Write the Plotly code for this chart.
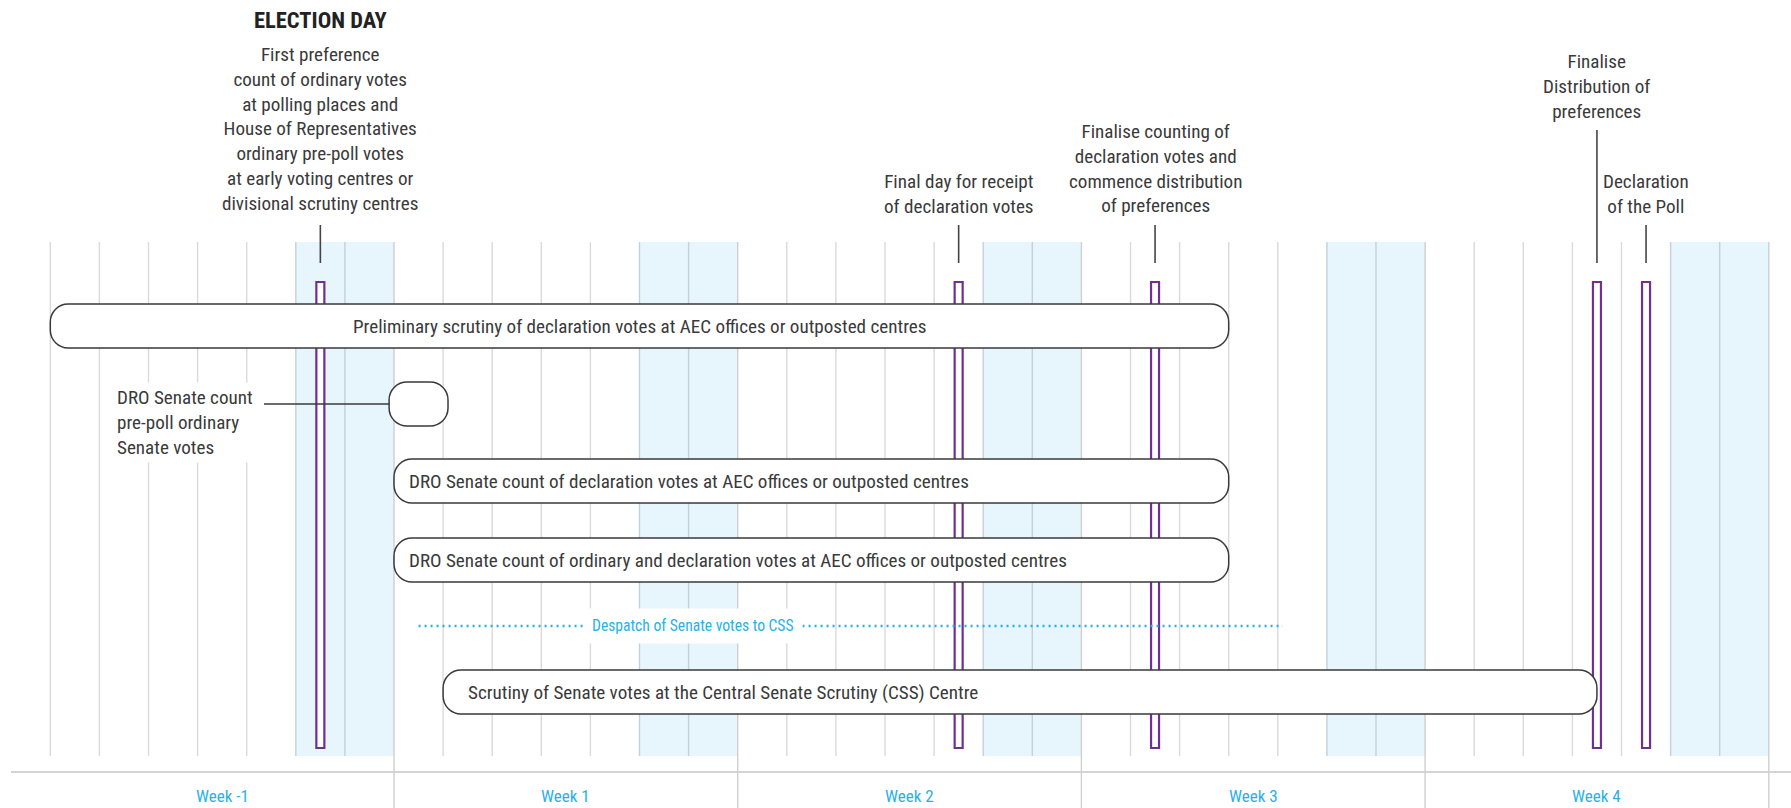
import plotly.graph_objects as go

# ---------------- data ----------------
week_labels = ["Week -1", "Week 1", "Week 2", "Week 3", "Week 4"]
days_per_week = 7
weekend_offsets = [5, 6]          # Saturday, Sunday within each week

milestone_days = [5.5, 18.5, 22.5, 31.5, 32.5]
milestone_texts = [
    "First preference<br>count of ordinary votes<br>at polling places and<br>House of Representatives"
    "<br>ordinary pre-poll votes<br>at early voting centres or<br>divisional scrutiny centres",
    "Final day for receipt<br>of declaration votes",
    "Finalise counting of<br>declaration votes and<br>commence distribution<br>of preferences",
    "Finalise<br>Distribution of<br>preferences",
    "Declaration<br>of the Poll",
]
election_day_title = "ELECTION DAY"

activity_labels = [
    "Preliminary scrutiny of declaration votes at AEC offices or outposted centres",
    "",
    "DRO Senate count of declaration votes at AEC offices or outposted centres",
    "DRO Senate count of ordinary and declaration votes at AEC offices or outposted centres",
    "Scrutiny of Senate votes at the Central Senate Scrutiny (CSS) Centre",
]
activity_start = [0, 6.9, 7, 7, 8]
activity_end = [24, 8.1, 24, 24, 31.5]

prepoll_label = "DRO Senate count<br>pre-poll ordinary<br>Senate votes"

despatch_label = "Despatch of Senate votes to CSS"
despatch_start = 7.5
despatch_end = 25.1

# ---------------- layout / style ----------------
W, H = 1791, 808
X0_PX = 50.3          # pixel of day 0
DAY_PX = 49.1         # pixels per day
n_days = len(week_labels) * days_per_week

GRID_TOP, GRID_BOT = 242, 756
AXIS_Y = 772
BAR_TOP, BAR_BOT = 282, 748
BAR_W = 8 / DAY_PX

row_center = [326, 404, 481, 560, 692]
row_h = 44
row_align = ["center", None, "left", "left", "left"]
row_pad_px = [0, 0, 13, 13, 23]
corner_r = 18

milestone_text_y = [129, 194, 168.5, 86, 194]
milestone_tick_top = [225, 225, 225, 130, 225]
milestone_tick_bot = 263

FONT = "Liberation Sans Narrow, Roboto Condensed, DejaVu Sans Condensed, Arial Narrow, sans-serif"
FS = 19.1
TXT = "#3a3a3a"
BLUE = "#27b1ea"
PURPLE = "#702f93"
SHADE = "#e7f5fc"
GRID = "#dadada"
GRID_SHADE = "#c5d1d9"


def px_to_day(p):
    return (p - X0_PX) / DAY_PX


def rounded_path(x0, x1, y0, y1, r):
    rx = r / DAY_PX
    ry = r
    k = 0.4477
    return (
        f"M {x0 + rx},{y0} L {x1 - rx},{y0} "
        f"C {x1 - rx * k},{y0} {x1},{y0 + ry * k} {x1},{y0 + ry} "
        f"L {x1},{y1 - ry} "
        f"C {x1},{y1 - ry * k} {x1 - rx * k},{y1} {x1 - rx},{y1} "
        f"L {x0 + rx},{y1} "
        f"C {x0 + rx * k},{y1} {x0},{y1 - ry * k} {x0},{y1 - ry} "
        f"L {x0},{y0 + ry} "
        f"C {x0},{y0 + ry * k} {x0 + rx * k},{y0} {x0 + rx},{y0} Z"
    )


shapes = []
annotations = []

# weekend shading
weekend_days = set()
for w in range(len(week_labels)):
    for o in weekend_offsets:
        d = w * days_per_week + o
        weekend_days.add(d)
        shapes.append(dict(type="rect", x0=d, x1=d + 1, y0=GRID_TOP, y1=GRID_BOT,
                           fillcolor=SHADE, line=dict(width=0), layer="below"))

# day grid lines
for d in range(n_days + 1):
    is_week = d % days_per_week == 0 and d > 0
    in_shade = (d in weekend_days) or ((d - 1) in weekend_days)
    col = GRID_SHADE if in_shade and not is_week else GRID
    if is_week:
        col = "#cfcfcf"
    shapes.append(dict(type="line", x0=d, x1=d, y0=GRID_TOP, y1=H if is_week else GRID_BOT,
                       line=dict(color=col, width=1.4), layer="below"))

# axis line
shapes.append(dict(type="line", xref="paper", x0=11 / W, x1=1, y0=AXIS_Y, y1=AXIS_Y,
                   line=dict(color="#d4d4d4", width=2), layer="below"))

# week labels
for i, lab in enumerate(week_labels):
    annotations.append(dict(x=i * days_per_week + days_per_week / 2, y=796, text=lab,
                            showarrow=False, font=dict(family=FONT, size=17, color=BLUE),
                            xanchor="center", yanchor="middle"))

# milestone bars, ticks and labels
for i, d in enumerate(milestone_days):
    shapes.append(dict(type="rect", x0=d - BAR_W / 2, x1=d + BAR_W / 2, y0=BAR_TOP, y1=BAR_BOT,
                       fillcolor="white", line=dict(color=PURPLE, width=2.2)))
    shapes.append(dict(type="line", x0=d, x1=d, y0=milestone_tick_top[i], y1=milestone_tick_bot,
                       line=dict(color="#444444", width=1.6)))
    annotations.append(dict(x=d, y=milestone_text_y[i], text=milestone_texts[i], showarrow=False,
                            font=dict(family=FONT, size=FS, color=TXT), align="center",
                            xanchor="center", yanchor="middle"))

annotations.append(dict(x=milestone_days[0], y=20, text="<b>" + election_day_title + "</b>",
                        showarrow=False, font=dict(family=FONT, size=22.5, color="#222222"),
                        xanchor="center", yanchor="middle"))

# activity boxes
for i, lab in enumerate(activity_labels):
    x0, x1 = activity_start[i], activity_end[i]
    y0, y1 = row_center[i] - row_h / 2, row_center[i] + row_h / 2
    shapes.append(dict(type="path", path=rounded_path(x0, x1, y0, y1, corner_r),
                       fillcolor="white", line=dict(color="#3a3a3a", width=1.5)))
    if lab:
        if row_align[i] == "center":
            annotations.append(dict(x=(x0 + x1) / 2, y=row_center[i], text=lab, showarrow=False,
                                    font=dict(family=FONT, size=FS, color=TXT),
                                    xanchor="center", yanchor="middle"))
        else:
            annotations.append(dict(x=x0 + row_pad_px[i] / DAY_PX, y=row_center[i], text=lab,
                                    showarrow=False, font=dict(family=FONT, size=FS, color=TXT),
                                    xanchor="left", yanchor="middle"))

# pre-poll label and leader line
shapes.append(dict(type="line", x0=px_to_day(264), x1=activity_start[1], y0=row_center[1],
                   y1=row_center[1], line=dict(color="#3a3a3a", width=1.5)))
annotations.append(dict(x=px_to_day(113), y=422, text=prepoll_label, showarrow=False,
                        font=dict(family=FONT, size=FS, color=TXT), align="left",
                        xanchor="left", yanchor="middle", bgcolor="white", borderpad=3))

# despatch dotted line
shapes.append(dict(type="line", x0=despatch_start, x1=despatch_end, y0=626, y1=626,
                   line=dict(color=BLUE, width=2.4, dash="2px,4px")))
annotations.append(dict(x=px_to_day(693), y=626, text=despatch_label, showarrow=False,
                        font=dict(family=FONT, size=15.6, color=BLUE), xanchor="center",
                        yanchor="middle", bgcolor="white", borderpad=8))

fig = go.Figure()
fig.update_layout(
    width=W, height=H,
    margin=dict(l=0, r=0, t=0, b=0),
    paper_bgcolor="white", plot_bgcolor="white",
    xaxis=dict(range=[px_to_day(0), px_to_day(W)], visible=False, fixedrange=True),
    yaxis=dict(range=[H, 0], visible=False, fixedrange=True),
    shapes=shapes, annotations=annotations, showlegend=False,
)
fig.write_html("out.html", config={"displayModeBar": False},
               post_script="document.body.style.margin='0';document.body.style.overflow='hidden';")
